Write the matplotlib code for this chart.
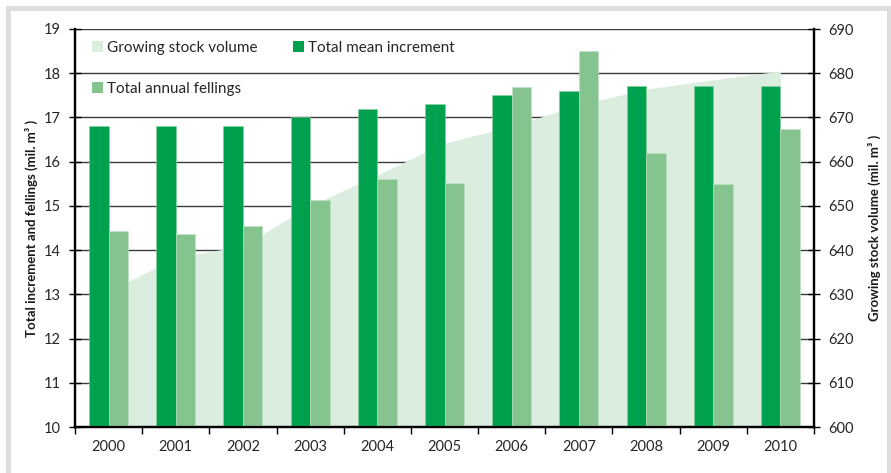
import matplotlib
matplotlib.use("Agg")
import matplotlib.pyplot as plt
from matplotlib.patches import Rectangle, Patch
import numpy as np

plt.rcParams['font.family'] = ['Lato', 'DejaVu Sans']

years = ["2000", "2001", "2002", "2003", "2004", "2005", "2006", "2007", "2008", "2009", "2010"]
mean_increment = [16.8, 16.8, 16.8, 17.0, 17.2, 17.3, 17.5, 17.6, 17.7, 17.7, 17.7]
annual_fellings = [14.44, 14.37, 14.55, 15.14, 15.6, 15.51, 17.69, 18.5, 16.2, 15.5, 16.74]
growing_stock = [630.7, 638.3, 641.0, 650.0, 657.0, 664.2, 668.0, 672.8, 676.4, 678.5, 680.5]

C_DARK = "#00A14E"
C_FELL = "#85C48F"
C_AREA = "#DAEDDE"
C_GRID = "#3C3C3C"

W, H = 891, 473
fig = plt.figure(figsize=(W / 100, H / 100), dpi=100)
fig.patch.set_facecolor("white")

# grey frame
fig.patches.append(Rectangle((7.5 / W, -0.2), (888.5 - 7.5) / W, 1.2 - 7.5 / H,
                             transform=fig.transFigure, fill=False,
                             edgecolor="#DCDDDF", linewidth=5 * 0.72))

left, right, top, bottom = 75, 814, 29, 427
ax_vol = fig.add_axes([left / W, 1 - bottom / H, (right - left) / W, (bottom - top) / H])
ax_bar = ax_vol.twinx()

x = np.arange(len(years))

# area (volume) on underlying axes
ax_vol.fill_between(x, 600, growing_stock, color=C_AREA, linewidth=0, zorder=1)
ax_vol.set_ylim(600, 690)
ax_vol.set_yticks(np.arange(600, 691, 10))
ax_vol.yaxis.tick_right()
ax_vol.yaxis.set_label_position("right")
ax_vol.set_axisbelow(True)
ax_vol.grid(axis="y", color=C_GRID, linewidth=1.0)

# bars on top axes
bw = 0.29
ax_bar.bar(x - bw, mean_increment, width=bw, align="edge", color=C_DARK,
           edgecolor="#8FCF9F", linewidth=0.4, zorder=2)
ax_bar.bar(x, annual_fellings, width=bw, align="edge", color=C_FELL,
           edgecolor="#C2E2C8", linewidth=0.4, zorder=2)
ax_bar.set_ylim(10, 19)
ax_bar.set_yticks(np.arange(10, 20, 1))
ax_bar.yaxis.tick_left()
ax_bar.yaxis.set_label_position("left")
ax_bar.patch.set_visible(False)

for a in (ax_vol, ax_bar):
    a.spines["top"].set_visible(False)
    for s in ("left", "right", "bottom"):
        a.spines[s].set_color("black")
        a.spines[s].set_linewidth(1.6)

ax_bar.tick_params(axis="y", direction="inout", length=9, width=1.0, color="black",
                   labelsize=10.5, pad=6, labelcolor="#262626")
ax_vol.tick_params(axis="y", direction="inout", length=9, width=1.0, color="black",
                   labelsize=10.5, pad=6, labelcolor="#262626")

# x axis (shared) shown on the underlying axes
ax_vol.set_xticks(x)
ax_vol.set_xticklabels(years)
ax_vol.set_xticks(np.arange(-0.5, len(years)), minor=True)
ax_vol.tick_params(axis="x", which="major", length=0, labelsize=10.5, pad=9, labelcolor="#262626")
ax_vol.tick_params(axis="x", which="minor", direction="out", length=5, width=1.0, color="black")
ax_vol.set_xlim(-0.5, len(years) - 0.5)

ax_bar.set_ylabel("Total increment and fellings (mil. m³ )", fontsize=9.5,
                  fontweight="bold", labelpad=4, color="#1a1a1a")
ax_vol.set_ylabel("Growing stock volume (mil. m³ )", fontsize=9.5,
                  fontweight="bold", labelpad=10, color="#1a1a1a")

handles = [Patch(facecolor=C_AREA, edgecolor="none", label="Growing stock volume"),
           Patch(facecolor=C_FELL, edgecolor="none", label="Total annual fellings"),
           Patch(facecolor=C_DARK, edgecolor="none", label="Total mean increment")]
leg = ax_bar.legend(handles=handles, ncol=2, loc="upper left",
                    bbox_to_anchor=(0.0145, 0.985), frameon=False, fontsize=11,
                    handlelength=0.72, handleheight=0.72, handletextpad=0.3,
                    columnspacing=2.27, labelspacing=1.75, borderaxespad=0)
for t in leg.get_texts():
    t.set_color("#262626")

fig.savefig("out.png", dpi=100)
